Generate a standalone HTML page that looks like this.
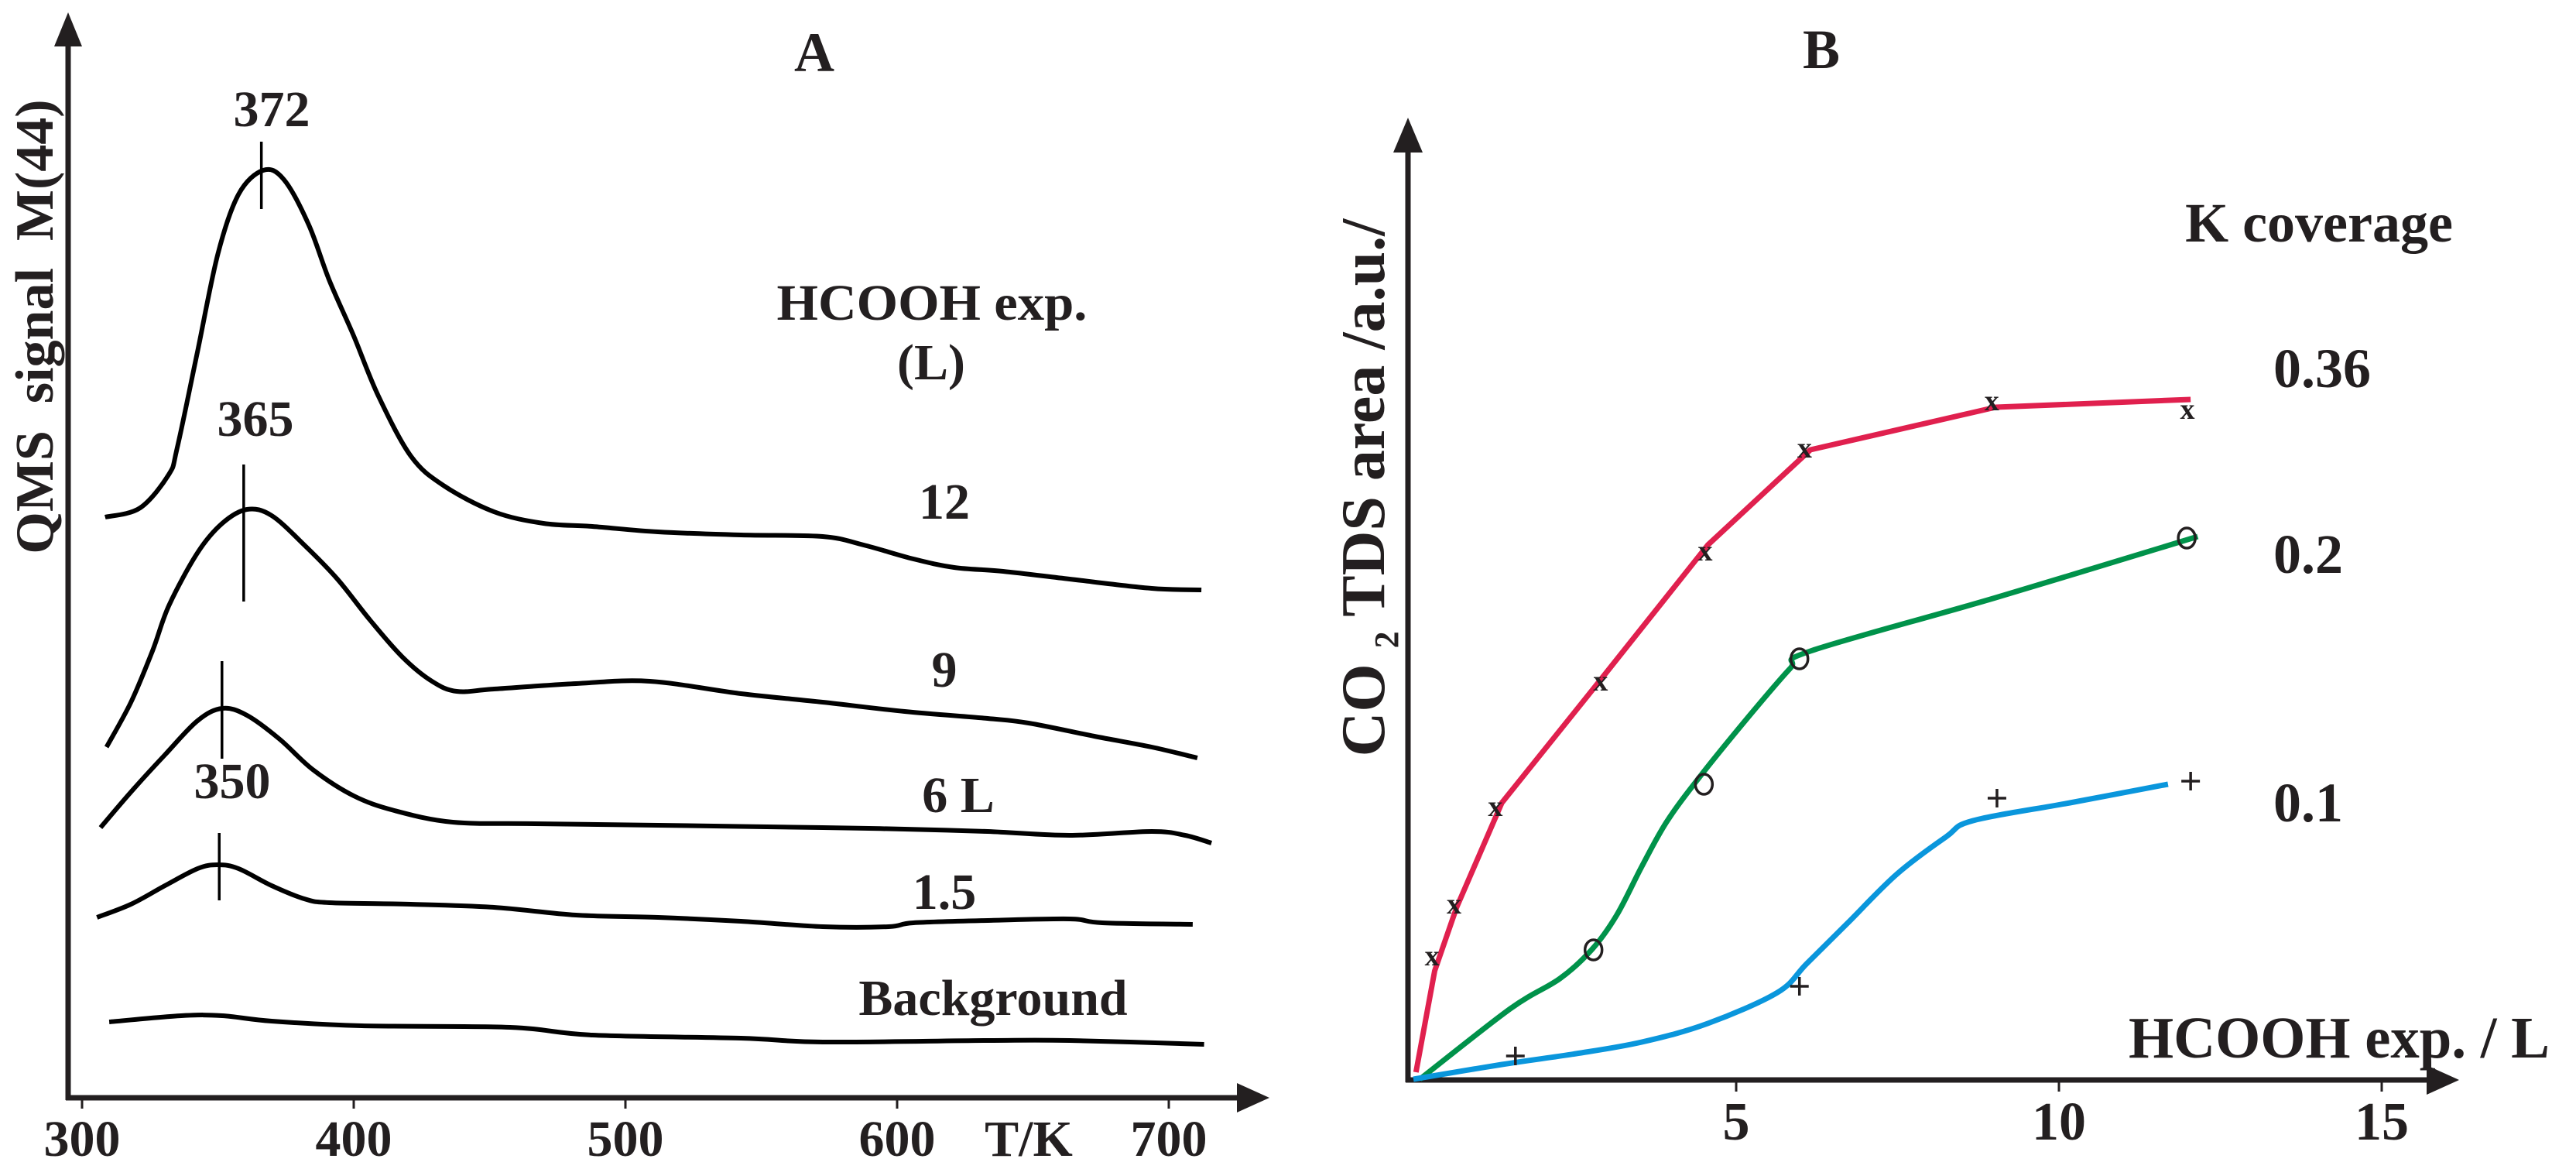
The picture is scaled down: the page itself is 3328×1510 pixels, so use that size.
<!DOCTYPE html>
<html><head><meta charset="utf-8"><title>TPD charts</title>
<style>
html,body{margin:0;padding:0;background:#fff;}
svg{display:block;}
text{font-family:"Liberation Serif",serif;font-weight:bold;fill:#231f20;}
</style></head>
<body>
<svg id="fig" width="3328" height="1510" viewBox="0 0 3328 1510" xmlns="http://www.w3.org/2000/svg">
<g id="panelA">
  <line x1="88" y1="1421" x2="88" y2="50" stroke="#231f20" stroke-width="7"/>
  <polygon points="88,16 70,60 106,60" fill="#231f20"/>
  <line x1="85" y1="1418" x2="1605" y2="1418" stroke="#231f20" stroke-width="7"/>
  <polygon points="1640,1418 1598,1399 1598,1437" fill="#231f20"/>
  <text x="1052" y="92" font-size="72" text-anchor="middle">A</text>
  <text transform="translate(68,422) rotate(-90)" font-size="70" text-anchor="middle" xml:space="preserve">QMS  signal  M(44)</text>
  <text x="1329" y="1493" font-size="66" text-anchor="middle">T/K</text>
  <text x="1204" y="413" font-size="66" text-anchor="middle" textLength="401" lengthAdjust="spacingAndGlyphs">HCOOH exp.</text>
  <text x="1203" y="490" font-size="66" text-anchor="middle">(L)</text>
  <g id="aTicks"></g>
  <g id="aCurves"></g>
</g>
<g id="panelB">
  <line x1="1819" y1="1398" x2="1819" y2="190" stroke="#231f20" stroke-width="7"/>
  <polygon points="1819,152 1800,197 1838,197" fill="#231f20"/>
  <line x1="1816" y1="1395" x2="3140" y2="1395" stroke="#231f20" stroke-width="7"/>
  <polygon points="3177,1395 3135,1376 3135,1414" fill="#231f20"/>
  <text x="2353" y="88" font-size="72" text-anchor="middle">B</text>
  <text transform="translate(1788,630) rotate(-90)" font-size="80" text-anchor="middle" xml:space="preserve">CO <tspan font-size="44" dy="18">2</tspan><tspan dy="-18"> TDS area /a.u./</tspan></text>
  <text x="2750" y="1366" font-size="76" textLength="544" lengthAdjust="spacingAndGlyphs">HCOOH exp. / L</text>
  <text x="2996" y="312" font-size="72" text-anchor="middle">K coverage</text>
  <g id="bTicks"></g>
  <g id="bSeries"></g>
</g>
</svg>
<script>
// ---------- Panel A data (T in K, signal in a.u.) ----------
const aTickValues = [300, 400, 500, 600, 700];
const aTickLabels = ["300", "400", "500", "600", "700"];
const aSeriesNames = ["12", "9", "6 L", "1.5", "Background"];
const aT12 = [308.5,321.4,331.9,335,342.5,350,357.6,366.7,374.3,383.4,391,400,409,421,433,451.6,469.8,487.8,512,542.5,572.6,587.7,606,621,639,663.5,693.7,712];
const aS12 = [75,76.2,80.5,83.9,96.4,109,116.7,119.8,118.6,112.8,105.6,98.4,90.7,82.9,79.1,75.7,74.2,73.8,73.1,72.7,72.5,71.4,69.6,68.5,68,67,65.8,65.6];
const aT9 = [309,318,326,332,342.5,351.6,360.7,369.8,381.8,394,406,418,428.8,437.9,451.6,481.8,509,542.5,572.6,602.8,633.3,648.4,672.6,693.7,710.5];
const aS9 = [45.3,51.1,57.8,63.6,70.4,74.2,76,75.2,71.4,67,61.7,56.9,53.8,52.5,52.8,53.5,53.8,52.2,51.1,49.9,49,48.4,46.7,45.3,43.9];
const aT6 = [306.8,318,330.5,342.5,351.6,360.7,372.8,384.9,400,415,436.5,466.7,512,572.6,602.8,633.3,663.5,693.7,706,715.7];
const aS6 = [34.9,39.5,44.3,48.7,50.3,49.4,46.3,42.4,39,37.1,35.6,35.4,35.2,34.9,34.7,34.4,33.9,34.4,33.9,32.9];
const aT15 = [305.5,318,330.5,342.5,350,357.6,369.8,381.8,391,421,451.6,481.8,512,542.5,572.6,596.9,606,633.3,663.5,675.5,708.8];
const aS15 = [23.3,25,27.4,29.6,30.1,29.6,27.4,25.7,25.2,25,24.6,23.6,23.3,22.8,22.1,22.1,22.6,22.9,23.1,22.6,22.4];
const aTbg = [310,336.5,351.6,369.8,403,457.5,487.8,542.5,572.6,633.3,663.5,713];
const aSbg = [9.8,10.6,10.6,9.9,9.3,9.1,8.1,7.7,7.2,7.4,7.4,6.9];
const aPeakLabels = ["372", "365", "350"];
const aPeakT = [366, 359.5, 351.5, 350.5];
const aPeakTop = [123.5, 81.8, 56.4, 34.2];
const aPeakBottom = [114.8, 64.1, 43.8, 25.5];

// ---------- Panel B data (exposure in L, area in a.u.) ----------
const bTickValues = [5, 10, 15];
const bTickLabels = ["5", "10", "15"];
const bSeriesNames = ["0.36", "0.2", "0.1"];
const bRedX = [0.04,0.33,0.67,1.37,2.9,4.56,6.15,9.02,12.04];
const bRedY = [1.0,14.1,22.3,35.8,51.7,69.1,81.4,86.9,87.9];
const bRedMX = [0.29,0.63,1.27,2.9,4.52,6.06,8.96,11.99];
const bRedMY = [16,22.7,35.3,51.5,68.3,81.6,87.7,86.6];
const bGreenX = [0.1,1.5,2.27,2.77,3.15,3.54,3.92,4.43,5.19,5.83,6.15,9.02,12.15];
const bGreenY = [0.1,9.2,13.1,16.9,21.3,27.6,33.3,39.1,46.9,53.1,55.4,62.3,70.2];
const bGreenMX = [2.79,4.5,5.98,11.98];
const bGreenMY = [16.8,38.2,54.4,70];
const bBlueX = [0,1.37,2.52,3.54,4.56,5.64,6.09,6.73,7.49,8.25,8.67,10.17,11.69];
const bBlueY = [0.1,2.0,3.4,4.9,7.3,11.3,15,20.3,26.6,31.4,33.5,35.8,38.2];
const bBlueMX = [1.58,5.98,9.04,12.04];
const bBlueMY = [3.1,12.1,36.4,38.6];

const NS = "http://www.w3.org/2000/svg";
function mk(tag, attrs, parent){ const e=document.createElementNS(NS,tag); for(const k in attrs) e.setAttribute(k,attrs[k]); parent.appendChild(e); return e; }

const axT = t => 106 + (t - 300) * 3.51;
const ayS = s => 1418 - s * 10;
const bx = v => 1826 + v * 83.4;
const by = v => 1395 - v * 10;

function smoothPath(xs, ys){
  const p = xs.map((x,i)=>[x,ys[i]]);
  let d = "M" + p[0][0].toFixed(1) + "," + p[0][1].toFixed(1);
  for(let i=0;i<p.length-1;i++){
    const p0=p[Math.max(0,i-1)], p1=p[i], p2=p[i+1], p3=p[Math.min(p.length-1,i+2)];
    const c1=[p1[0]+(p2[0]-p0[0])/6, p1[1]+(p2[1]-p0[1])/6];
    const c2=[p2[0]-(p3[0]-p1[0])/6, p2[1]-(p3[1]-p1[1])/6];
    d += " C"+c1[0].toFixed(1)+","+c1[1].toFixed(1)+" "+c2[0].toFixed(1)+","+c2[1].toFixed(1)+" "+p2[0].toFixed(1)+","+p2[1].toFixed(1);
  }
  return d;
}

const aTicks = document.getElementById("aTicks");
aTickValues.forEach((v,i)=>{
  const t = mk("line",{x1:axT(v),x2:axT(v),y1:1420,y2:1432,stroke:"#231f20","stroke-width":3},aTicks);
  
  
  const l = mk("text",{x:axT(v),y:1493,"font-size":66,"text-anchor":"middle"},aTicks);
  l.textContent = aTickLabels[i];
  
  
});

const aCurves = document.getElementById("aCurves");
const aTs = [aT12, aT9, aT6, aT15, aTbg];
const aSs = [aS12, aS9, aS6, aS15, aSbg];
const aLabelPos = [[1220,670],[1220,887],[1238,1049],[1220,1174],[1283,1311]];
aTs.forEach((ts,k)=>{
  const p = mk("path",{d:smoothPath(ts.map(axT), aSs[k].map(ayS)),fill:"none",stroke:"#000","stroke-width":6,"stroke-linejoin":"round"},aCurves);
  
  
  const l = mk("text",{x:aLabelPos[k][0],y:aLabelPos[k][1],"font-size":66,"text-anchor":"middle"},aCurves);
  l.textContent = aSeriesNames[k];
  
  
});
aPeakT.forEach((t,i)=>{
  const m = mk("line",{x1:axT(t),x2:axT(t),y1:ayS(aPeakTop[i]),y2:ayS(aPeakBottom[i]),stroke:"#000","stroke-width":3.5},aCurves);
  
  
});
const aPeakLabelPos = [[351,163],[330,563],[300,1031]];
aPeakLabels.forEach((s,i)=>{
  const l = mk("text",{x:aPeakLabelPos[i][0],y:aPeakLabelPos[i][1],"font-size":66,"text-anchor":"middle"},aCurves);
  l.textContent = s;
  
  
});

const bTicks = document.getElementById("bTicks");
bTickValues.forEach((v,i)=>{
  const t = mk("line",{x1:bx(v),x2:bx(v),y1:1397,y2:1410,stroke:"#231f20","stroke-width":3},bTicks);
  
  
  const l = mk("text",{x:bx(v),y:1472,"font-size":70,"text-anchor":"middle"},bTicks);
  l.textContent = bTickLabels[i];
  
  
});

const bSeries = document.getElementById("bSeries");
const bColors = ["#e0204e", "#00924a", "#0a96dc"];
const bLX = [bRedX, bGreenX, bBlueX], bLY = [bRedY, bGreenY, bBlueY];
const bMX = [bRedMX, bGreenMX, bBlueMX], bMY = [bRedMY, bGreenMY, bBlueMY];
const bLabelPos = [[2937,500],[2937,740],[2937,1061]];
bLX.forEach((xs,k)=>{
  const p = mk("path",{d:(k===0 ? "M"+xs.map((x,i)=>bx(x)+","+by(bLY[k][i])).join(" L") : smoothPath(xs.map(bx), bLY[k].map(by))),fill:"none",stroke:bColors[k],"stroke-width":7,"stroke-linejoin":"round"},bSeries);
  
  
  bMX[k].forEach((mx,i)=>{
    const cx = bx(mx), cy = by(bMY[k][i]);
    let m;
    if(k===0){
      m = mk("text",{x:cx,y:cy+12,"font-size":38,"text-anchor":"middle","font-family":"Liberation Sans","font-weight":"normal"},bSeries);
      m.textContent = "x";
    } else if(k===1){
      m = mk("ellipse",{cx:cx,cy:cy,rx:11,ry:13,fill:"none",stroke:"#231f20","stroke-width":3.5},bSeries);
    } else {
      m = mk("path",{d:"M"+(cx-12)+","+cy+" h24 M"+cx+","+(cy-12)+" v24",stroke:"#231f20","stroke-width":3.5,fill:"none"},bSeries);
    }
    
    
  });
  const l = mk("text",{x:bLabelPos[k][0],y:bLabelPos[k][1],"font-size":72},bSeries);
  l.textContent = bSeriesNames[k];
  
  
});
</script>
</body></html>
